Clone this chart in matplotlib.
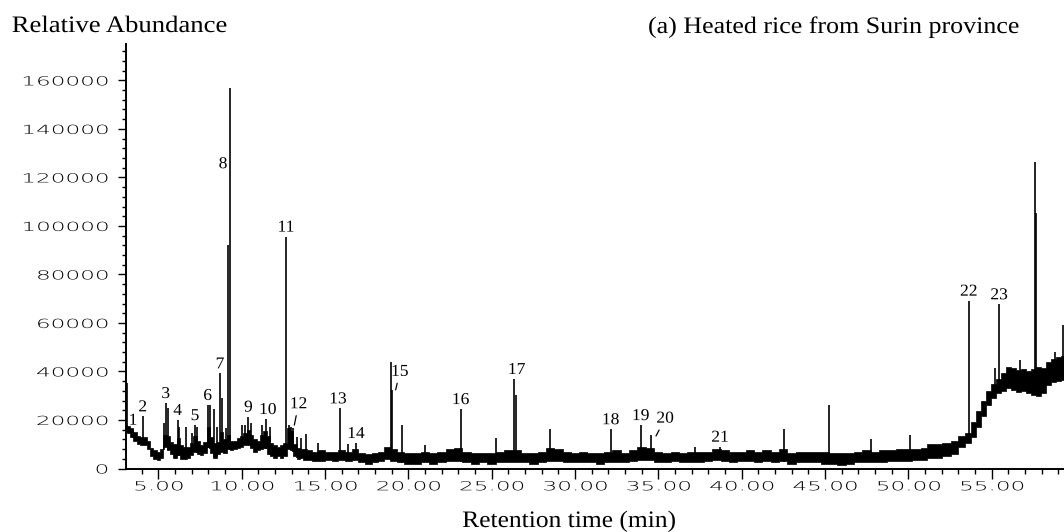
import numpy as np
import matplotlib
matplotlib.use("Agg")
import matplotlib.pyplot as plt
from matplotlib.patheffects import AbstractPathEffect
from matplotlib.ticker import FixedLocator, MultipleLocator
from matplotlib.transforms import Affine2D

# TIC baseline as a noise band: time (min), lower and upper edge of the trace
base_t = [3.06, 3.2, 3.4, 3.6, 3.8, 4.0, 4.2, 4.4, 4.6, 4.8,
          5.0, 5.2, 5.4, 5.6, 5.8, 6.0, 6.2, 6.4, 6.6, 6.8,
          7.0, 7.2, 7.4, 7.6, 7.8, 8.0, 8.2, 8.4, 8.6, 8.8,
          9.0, 9.2, 9.4, 9.6, 9.8, 10.0, 10.2, 10.4, 10.6, 10.8,
          11.0, 11.2, 11.4, 11.6, 11.8, 12.0, 12.2, 12.4, 12.6, 12.8,
          13.0, 13.2, 13.4, 13.6, 13.8, 14.0, 14.4, 14.8, 15.2, 15.6,
          16.0, 16.4, 16.8, 17.2, 17.6, 18.0, 18.4, 18.7, 19.1, 19.5,
          20.0, 20.5, 21.0, 21.5, 22.0, 22.5, 23.0, 23.5, 24.0, 24.5,
          25.0, 25.5, 26.0, 26.5, 27.0, 27.5, 28.0, 28.5, 29.0, 29.5,
          30.0, 30.5, 31.0, 31.5, 32.0, 32.5, 33.0, 33.5, 34.0, 34.5,
          35.0, 35.5, 36.0, 36.5, 37.0, 37.5, 38.0, 38.5, 39.0, 39.5,
          40.0, 40.5, 41.0, 41.5, 42.0, 42.5, 43.0, 43.5, 44.0, 44.5,
          45.0, 45.5, 46.0, 46.5, 47.0, 47.5, 48.0, 48.5, 49.0, 49.5,
          50.0, 50.5, 51.0, 51.3, 51.8, 52.3, 52.8, 53.2, 53.6, 53.9,
          54.2, 54.5, 54.8, 55.1, 55.4, 55.7, 56.0, 56.3, 56.6, 56.9,
          57.2, 57.5, 57.8, 58.1, 58.4, 58.7, 59.0, 59.35]
base_lo = [15000, 14500, 13000, 11500, 10000, 9500, 9500, 8000, 5000, 4000,
           3500, 4500, 9000, 7500, 6000, 4500, 5500, 4000, 4000, 4500,
           5500, 7000, 6000, 5500, 6500, 9000, 6500, 4500, 6000, 7000,
           6500, 8000, 7500, 8000, 8500, 9000, 9500, 9500, 8500, 7000,
           7500, 8000, 8500, 6000, 5000, 4500, 5000, 4500, 5000, 8000,
           7500, 5000, 4000, 4500, 3500, 3500, 3000, 3000, 3500, 3000,
           3500, 3000, 3500, 2500, 2000, 2500, 3000, 4000, 3000, 2500,
           2000, 2000, 2500, 2000, 2500, 3000, 3000, 2500, 2000, 2500,
           2000, 2500, 2500, 2500, 2500, 2000, 2500, 3000, 3000, 2500,
           2500, 2500, 2500, 2000, 2500, 2500, 2500, 3000, 3500, 3500,
           2500, 2500, 3000, 2500, 2500, 2500, 3000, 3500, 3000, 2500,
           3000, 3000, 2500, 3000, 2500, 3000, 2000, 2500, 2500, 2500,
           2000, 2000, 1500, 2000, 2500, 2500, 2500, 2500, 3000, 3000,
           3000, 3500, 3500, 4500, 4500, 5000, 6000, 9000, 10500, 13000,
           17000, 21500, 26000, 29000, 31000, 32000, 33000, 32500, 31500, 32000,
           31000, 30500, 30000, 31000, 34500, 35500, 36000, 36500]
base_hi = [18000, 17500, 16500, 15000, 13500, 13000, 13000, 11500, 8500, 7500,
           7000, 8000, 14000, 13500, 11000, 10000, 12500, 9500, 9000, 9000,
           10500, 13500, 11500, 9500, 11000, 17000, 13000, 10500, 11000, 15000,
           12000, 14000, 11500, 11500, 12500, 13500, 14500, 16000, 14000, 12000,
           11500, 14000, 15500, 13500, 10500, 9500, 9000, 9500, 10500, 16500,
           15500, 10000, 8500, 8000, 8000, 7500, 7000, 7500, 7000, 7000,
           7500, 7000, 8000, 6500, 6000, 6500, 7000, 9000, 8000, 7000,
           6500, 6500, 7000, 6500, 7000, 8000, 8500, 7000, 6500, 6500,
           6500, 7000, 7500, 7500, 6500, 6500, 7000, 8500, 8000, 7000,
           6500, 7000, 6500, 6500, 7000, 7500, 6500, 7500, 9000, 8500,
           7000, 6500, 7000, 6500, 7000, 7000, 7000, 8000, 7500, 7000,
           7000, 7500, 7000, 7500, 7000, 8000, 6500, 7000, 7000, 7000,
           7000, 6500, 6500, 6500, 7000, 7500, 7000, 7500, 7500, 8000,
           8000, 8000, 8500, 10000, 10000, 10500, 11500, 13500, 14500, 19000,
           23500, 28000, 32000, 35000, 37000, 39500, 42000, 41500, 40500, 41000,
           40000, 41000, 42000, 41500, 44000, 45000, 46000, 46500]

# numbered compounds: retention time (min) and peak height
peak_no = list(range(1, 24))
peak_t = [3.48, 4.06, 5.44, 6.16, 7.20, 7.96, 8.70, 9.30, 10.40, 11.44,
          12.66, 12.82, 15.90, 16.86, 18.94, 23.14, 26.36, 32.14, 33.94, 34.54,
          38.70, 53.62, 55.44]
peak_h = [16000, 21500, 27000, 20000, 17900, 26200, 39200, 156800, 21400, 20400,
          95600, 17900, 24800, 10500, 43800, 24500, 36900, 16200, 17900, 13800,
          9000, 69200, 67700]

# unnumbered spikes on the trace
spike_t = [3.10, 5.34, 5.56, 6.24, 6.66, 7.04, 7.30, 8.08, 8.36, 8.50,
           8.80, 9.06, 9.18, 10.00, 10.20, 10.56, 11.24, 11.70, 12.94, 13.06,
           13.30, 13.56, 13.84, 14.60, 16.40, 19.00, 19.64, 21.02, 25.26, 26.46,
           28.50, 37.20, 42.56, 45.24, 47.74, 50.10, 55.20, 56.70, 57.62, 57.68,
           58.80, 59.30]
spike_h = [35200, 18600, 24800, 17200, 17200, 14500, 17200, 26200, 24700, 17200,
           29000, 16500, 92200, 17900, 17900, 18600, 17900, 17200, 17200, 16500,
           13000, 12400, 14100, 10500, 10000, 32400, 17900, 9700, 12400, 30300,
           16300, 9000, 16300, 26200, 12200, 13800, 41300, 44700, 126300, 105500,
           48200, 59200]

y_ticks = [0, 20000, 40000, 60000, 80000, 100000, 120000, 140000, 160000]
x_ticks = [5, 10, 15, 20, 25, 30, 35, 40, 45, 50, 55]
x_tick_labels = ["5.00", "10.00", "15.00", "20.00", "25.00", "30.00",
                 "35.00", "40.00", "45.00", "50.00", "55.00"]


class Stretch(AbstractPathEffect):
    """Draws text wider than its font, keeping the left/right edge or centre fixed."""

    def __init__(self, sx, anchor="left"):
        super().__init__()
        self.sx = sx
        self.anchor = anchor

    def draw_path(self, renderer, gc, tpath, affine, rgbFace=None):
        xs = tpath.vertices[:, 0]
        if len(xs) == 0:
            return
        if self.anchor == "right":
            x0 = xs.max()
        elif self.anchor == "center":
            x0 = 0.5 * (xs.min() + xs.max())
        else:
            x0 = xs.min()
        wide = Affine2D().translate(-x0, 0).scale(self.sx, 1.0).translate(x0, 0)
        renderer.draw_path(gc, tpath, wide + affine, rgbFace)


serif = "Liberation Serif"

fig = plt.figure(figsize=(10.64, 5.32), dpi=100)
ax = fig.add_axes([126 / 1064, 63.5 / 532, 938 / 1064, 424.5 / 532])

# noise band of the baseline
ax.fill_between(base_t, base_lo, base_hi, step="mid", color="black",
                edgecolor="black", linewidth=0.5)

# peaks as sticks rising from the lower edge of the band
all_t = np.array(peak_t + spike_t)
all_h = np.array(peak_h + spike_h)
ax.vlines(all_t, np.interp(all_t, base_t, base_lo), all_h,
          color="black", linewidth=1.2)

# peak numbers
label_dx = {10: 1.5, 13: -1.5, 17: 1.7}
leaders = {12: (0.34, 17900, 3.0, 15.0),
           15: (0.30, 32400, 3.0, 13.0),
           20: (0.32, 13400, 6.5, 12.5)}
for n, t, h in zip(peak_no, peak_t, peak_h):
    if n == 8:
        txt = ax.annotate(str(n), xy=(t, 0.8 * h), xytext=(-5, 0),
                          textcoords="offset points", ha="center", va="center")
    elif n in leaders:
        dt, y0, dx, dy = leaders[n]
        txt = ax.annotate(str(n), xy=(t + dt, y0), xytext=(dx, dy),
                          textcoords="offset points", ha="center", va="center",
                          arrowprops=dict(arrowstyle="-", lw=0.9, color="black",
                                          shrinkA=0.5, shrinkB=0))
    else:
        txt = ax.annotate(str(n), xy=(t, h), xytext=(label_dx.get(n, 0), 3.6),
                          textcoords="offset points", ha="center", va="baseline")
    txt.set_fontfamily(serif)
    txt.set_fontsize(12)
    txt.set_path_effects([Stretch(1.05, "center")])

ax.set_xlim(3.06, 59.34)
ax.set_ylim(0, 175000)

ax.spines["top"].set_visible(False)
ax.spines["right"].set_visible(False)
ax.spines["left"].set_linewidth(1.4)
ax.spines["bottom"].set_linewidth(1.4)

ax.xaxis.set_major_locator(FixedLocator(x_ticks))
ax.set_xticklabels(x_tick_labels)
ax.xaxis.set_minor_locator(MultipleLocator(1))
ax.yaxis.set_major_locator(FixedLocator(y_ticks))
ax.set_yticklabels([str(v) for v in y_ticks])
ax.yaxis.set_minor_locator(MultipleLocator(4000))

ax.tick_params(axis="x", which="major", length=7, width=1.0, pad=1.5, labelsize=9)
ax.tick_params(axis="x", which="minor", length=3.6, width=1.0)
ax.tick_params(axis="y", which="major", length=5.8, width=1.0, pad=7, labelsize=9)
ax.tick_params(axis="y", which="minor", length=3.2, width=1.0)

fig.text(11.7 / 1064, 1 - 32 / 532, "Relative Abundance", family=serif, fontsize=17,
         ha="left", va="baseline", path_effects=[Stretch(1.13, "left")])
fig.text(648 / 1064, 1 - 33 / 532, "(a) Heated rice from Surin province", family=serif,
         fontsize=17, ha="left", va="baseline", path_effects=[Stretch(1.1, "left")])
fig.text(569 / 1064, 5 / 532, "Retention time (min)", family=serif, fontsize=17,
         ha="center", va="baseline", path_effects=[Stretch(1.08, "center")])

fig.canvas.draw()
for lab in ax.get_xticklabels():
    lab.set_fontfamily("DejaVu Sans")
    lab.set_fontweight("light")
    lab.set_path_effects([Stretch(1.85, "center")])
for lab in ax.get_yticklabels():
    lab.set_fontfamily("DejaVu Sans")
    lab.set_fontweight("light")
    lab.set_path_effects([Stretch(1.85, "right")])

fig.savefig("out.png", dpi=100)
